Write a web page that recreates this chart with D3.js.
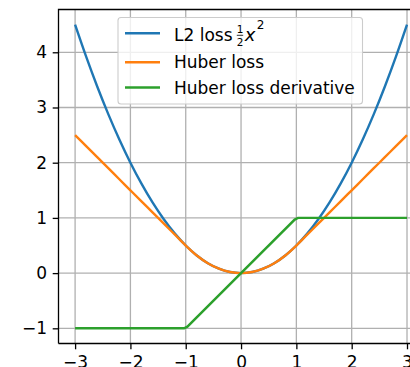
<!DOCTYPE html>
<html><head><meta charset="utf-8">
<script src="https://cdn.jsdelivr.net/npm/d3@7"></script>
<style>body{margin:0;background:#fff}svg{display:block}text{font-family:"DejaVu Sans",sans-serif}</style>
</head><body>
<script>
// data
const xs = [-3,-2.8,-2.6,-2.4,-2.2,-2,-1.8,-1.6,-1.4,-1.2,-1,-0.8,-0.6,-0.4,-0.2,0,0.2,0.4,0.6,0.8,1,1.2,1.4,1.6,1.8,2,2.2,2.4,2.6,2.8,3];
const l2 = [4.5,3.92,3.38,2.88,2.42,2,1.62,1.28,0.98,0.72,0.5,0.32,0.18,0.08,0.02,0,0.02,0.08,0.18,0.32,0.5,0.72,0.98,1.28,1.62,2,2.42,2.88,3.38,3.92,4.5];
const huber = [2.5,2.3,2.1,1.9,1.7,1.5,1.3,1.1,0.9,0.7,0.5,0.32,0.18,0.08,0.02,0,0.02,0.08,0.18,0.32,0.5,0.7,0.9,1.1,1.3,1.5,1.7,1.9,2.1,2.3,2.5];
const dxs = [-3,-1.03,-0.97,0.97,1.03,3];
const deriv = [-1,-1,-0.97,0.97,1,1];
const xTicks = [-3,-2,-1,0,1,2,3];
const yTicks = [-1,0,1,2,3,4];
const labels = ["L2 loss", "Huber loss", "Huber loss derivative"];
const colors = ["#1f77b4","#ff7f0e","#2ca02c"];

const W=410,H=367;
const L=58.5, T=9.5, B=343.5, R=423.6;
const x = d3.scaleLinear().domain([-3.3,3.3]).range([L,R]);
const y = d3.scaleLinear().domain([-1.275,4.775]).range([B,T]);
const svg = d3.select("body").append("svg").attr("width",W).attr("height",H);
const fs = 17;

// grid
svg.append("g").selectAll("line").data(xTicks).join("line")
  .attr("x1",d=>x(d)).attr("x2",d=>x(d)).attr("y1",T).attr("y2",B)
  .attr("stroke","#b0b0b0").attr("stroke-width",1.3);
svg.append("g").selectAll("line").data(yTicks).join("line")
  .attr("y1",d=>y(d)).attr("y2",d=>y(d)).attr("x1",L).attr("x2",R)
  .attr("stroke","#b0b0b0").attr("stroke-width",1.3);

// axes
const xa = svg.append("g").attr("transform",`translate(0,${B})`)
  .call(d3.axisBottom(x).tickValues(xTicks).tickSize(5.8).tickPadding(6.3).tickFormat(d=>d<0?"\u2212"+(-d):d));
const ya = svg.append("g").attr("transform",`translate(${L},0)`)
  .call(d3.axisLeft(y).tickValues(yTicks).tickSize(5.8).tickPadding(5.6).tickFormat(d=>d<0?"\u2212"+(-d):d));
[xa,ya].forEach(a=>{
  a.select(".domain").remove();
  a.selectAll(".tick line").attr("stroke","#000").attr("stroke-width",1.3);
  a.selectAll(".tick text").attr("font-size",fs).attr("font-family","DejaVu Sans").attr("fill","#000");
});

// lines
const lineGen = (xv,yv,curve)=>d3.line().x((d,i)=>x(xv[i])).y(d=>y(d)).curve(curve)(yv);
svg.append("path").attr("d",lineGen(xs,l2,d3.curveMonotoneX)).attr("fill","none").attr("stroke",colors[0]).attr("stroke-width",2.4);
svg.append("path").attr("d",lineGen(xs,huber,d3.curveMonotoneX)).attr("fill","none").attr("stroke",colors[1]).attr("stroke-width",2.4);
svg.append("path").attr("d",lineGen(dxs,deriv,d3.curveLinear)).attr("fill","none").attr("stroke",colors[2]).attr("stroke-width",2.4);

// spines
svg.append("path").attr("d",`M${L},${B}H${R+5}M${L},${B}V${T}H${R+5}`).attr("fill","none").attr("stroke","#000").attr("stroke-width",1.3);

// legend
const lg = svg.append("g");
lg.append("rect").attr("x",118).attr("y",17.5).attr("width",244.5).attr("height",86.5).attr("rx",3)
  .attr("fill","rgba(255,255,255,0.8)").attr("stroke","#cccccc").attr("stroke-width",1.1);
const ly = [33.3,62.3,87.5], lb = [41,68.3,94];
labels.forEach((t,i)=>{
  lg.append("line").attr("x1",125).attr("x2",160).attr("y1",ly[i]).attr("y2",ly[i]).attr("stroke",colors[i]).attr("stroke-width",2.4);
  lg.append("text").attr("x",174).attr("y",lb[i]).attr("font-size",fs).text(t);
});
// math part: 1/2 x^2
const mx = 236.8;
lg.append("text").attr("x",mx+3.2).attr("y",32.5).attr("font-size",10.5).attr("text-anchor","middle").attr("font-family","Liberation Serif").text("1");
lg.append("line").attr("x1",mx).attr("x2",mx+6.4).attr("y1",35.3).attr("y2",35.3).attr("stroke","#000").attr("stroke-width",0.8);
lg.append("text").attr("x",mx+3.2).attr("y",46).attr("font-size",10.5).attr("text-anchor","middle").attr("font-family","Liberation Serif").text("2");
lg.append("text").attr("x",mx+8).attr("y",41).attr("font-size",18).attr("font-style","italic").attr("font-family","Liberation Serif").text("x");
lg.append("text").attr("x",mx+20).attr("y",28.5).attr("font-size",12).attr("font-family","Liberation Serif").text("2");
</script>
</body></html>
